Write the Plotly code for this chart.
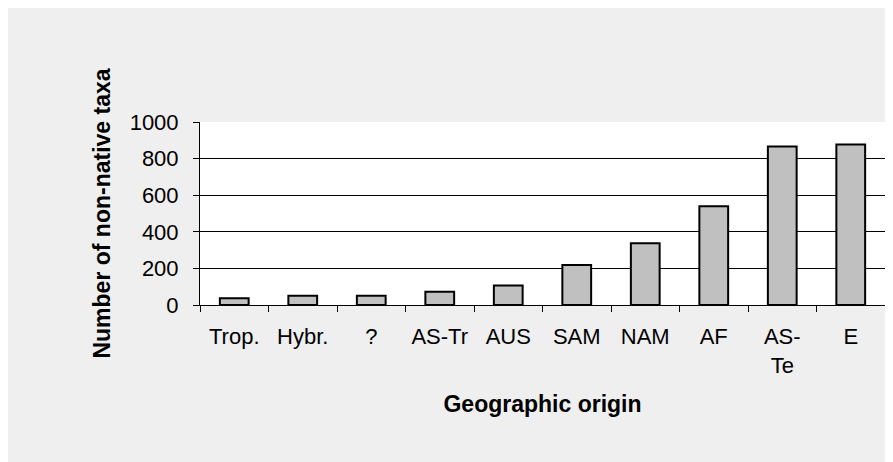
import plotly.graph_objects as go

categories = ["Trop.", "Hybr.", "?", "AS-Tr", "AUS", "SAM", "NAM", "AF", "AS-Te", "E"]
tick_labels = ["Trop.", "Hybr.", "?", "AS-Tr", "AUS", "SAM", "NAM", "AF", "AS-<br>Te", "E"]
taxa_counts = [37, 51, 51, 73, 106, 219, 338, 539, 866, 877]
y_ticks = [0, 200, 400, 600, 800, 1000]
y_grid = [200, 400, 600, 800]

FONT = "Liberation Sans, Arial, sans-serif"

fig = go.Figure()
fig.add_trace(go.Bar(
    x=categories,
    y=taxa_counts,
    marker=dict(color="#c0c0c0", line=dict(color="#000000", width=2)),
    hoverinfo="x+y",
))

fig.update_layout(
    width=893, height=462,
    margin=dict(l=192, r=16, t=114, b=165, pad=0),
    paper_bgcolor="#efefef",
    plot_bgcolor="#ffffff",
    font=dict(family=FONT, size=22, color="#000000"),
    showlegend=False,
    bargap=0.58,
    xaxis=dict(
        type="category",
        tickmode="array",
        tickvals=categories,
        ticktext=tick_labels,
        tickson="boundaries",
        ticks="outside",
        ticklen=6,
        tickwidth=1,
        tickcolor="#000000",
        showline=True,
        linecolor="#000000",
        linewidth=1,
        showgrid=False,
        ticklabelstandoff=12,
        tickfont=dict(family=FONT, size=22, color="#000000"),
        title=dict(text="Geographic origin", standoff=18,
                   font=dict(family=FONT, size=23, color="#000000", weight="bold")),
    ),
    yaxis=dict(
        range=[0, 1000],
        tickmode="array",
        tickvals=y_ticks,
        ticks="outside",
        ticklen=6,
        tickwidth=1,
        tickcolor="#000000",
        showline=True,
        linecolor="#000000",
        linewidth=1,
        showgrid=False,
        zeroline=False,
        ticklabelstandoff=10,
        tickfont=dict(family=FONT, size=22, color="#000000"),
        minor=dict(tickmode="array", tickvals=y_grid, showgrid=True,
                   gridcolor="#000000", gridwidth=1, ticks=""),
        title=dict(text="Number of non-native taxa", standoff=12,
                   font=dict(family=FONT, size=23, color="#000000", weight="bold")),
    ),
)

fig.write_html("out.html")
